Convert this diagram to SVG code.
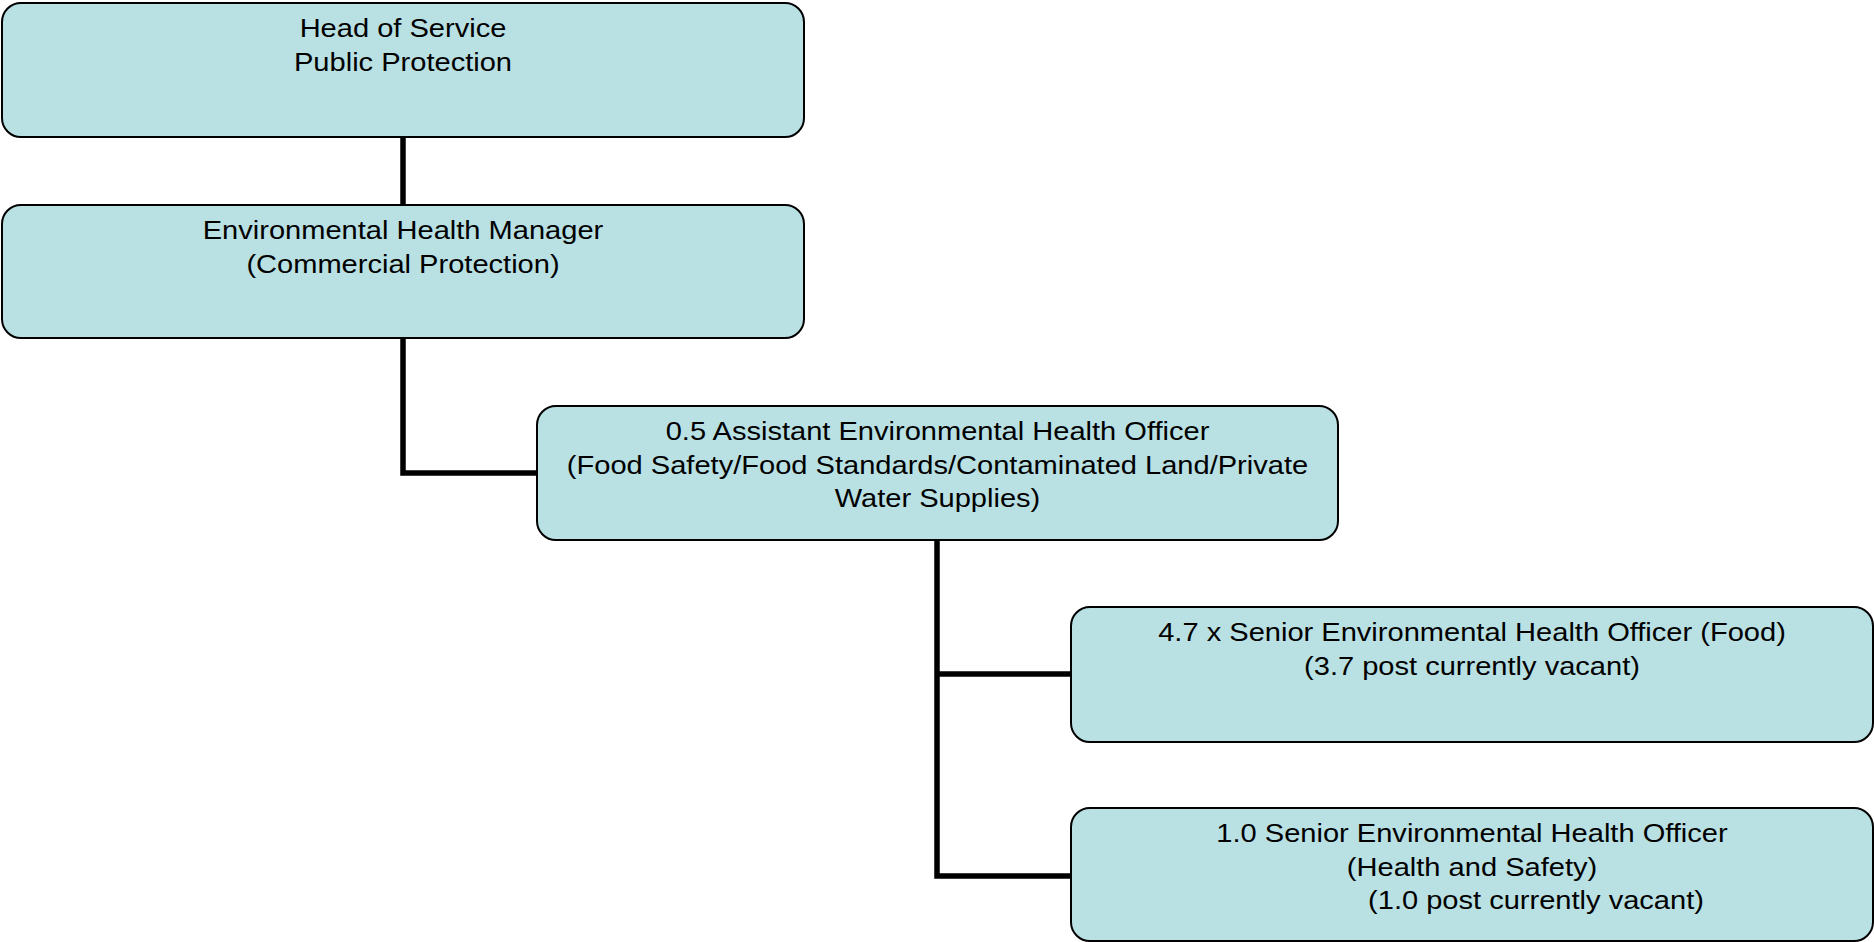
<svg xmlns="http://www.w3.org/2000/svg" width="1874" height="942" viewBox="0 0 1874 942">
<style>
.box{fill:#B9E0E3;stroke:#000;stroke-width:2}
.t{font-family:"Liberation Sans",Arial,sans-serif;font-size:25.5px;fill:#000;text-anchor:middle}
.c{fill:none;stroke:#000;stroke-width:5.5;stroke-linejoin:miter;stroke-linecap:butt}
</style>
<rect width="1874" height="942" fill="#fff"/>
<g id="connectors">
<path class="c" d="M403,137 V205"/>
<path class="c" d="M403,338 V473 H537"/>
<path class="c" d="M937,540 V876 H1071"/>
<path class="c" d="M937,674 H1071"/>
</g>
<g id="node1">
<rect class="box" x="2" y="3" width="802" height="134" rx="19"/>
<text class="t" transform="translate(403,37) scale(1.14,1)">Head of Service</text>
<text class="t" transform="translate(403,70.5) scale(1.14,1)">Public Protection</text>
</g>
<g id="node2">
<rect class="box" x="2" y="205" width="802" height="133" rx="19"/>
<text class="t" transform="translate(403,239) scale(1.14,1)">Environmental Health Manager</text>
<text class="t" transform="translate(403,272.5) scale(1.14,1)">(Commercial Protection)</text>
</g>
<g id="node3">
<rect class="box" x="537" y="406" width="801" height="134" rx="19"/>
<text class="t" transform="translate(937.5,440) scale(1.14,1)">0.5 Assistant Environmental Health Officer</text>
<text class="t" transform="translate(937.5,473.5) scale(1.14,1)">(Food Safety/Food Standards/Contaminated Land/Private</text>
<text class="t" transform="translate(937.5,507) scale(1.14,1)">Water Supplies)</text>
</g>
<g id="node4">
<rect class="box" x="1071" y="607" width="802" height="135" rx="19"/>
<text class="t" transform="translate(1472,641) scale(1.14,1)">4.7 x Senior Environmental Health Officer (Food)</text>
<text class="t" transform="translate(1472,674.5) scale(1.14,1)">(3.7 post currently vacant)</text>
</g>
<g id="node5">
<rect class="box" x="1071" y="808" width="802" height="133" rx="19"/>
<text class="t" transform="translate(1472,842) scale(1.14,1)">1.0 Senior Environmental Health Officer</text>
<text class="t" transform="translate(1472,875.5) scale(1.14,1)">(Health and Safety)</text>
<text class="t" transform="translate(1536,909) scale(1.14,1)">(1.0 post currently vacant)</text>
</g>
</svg>
